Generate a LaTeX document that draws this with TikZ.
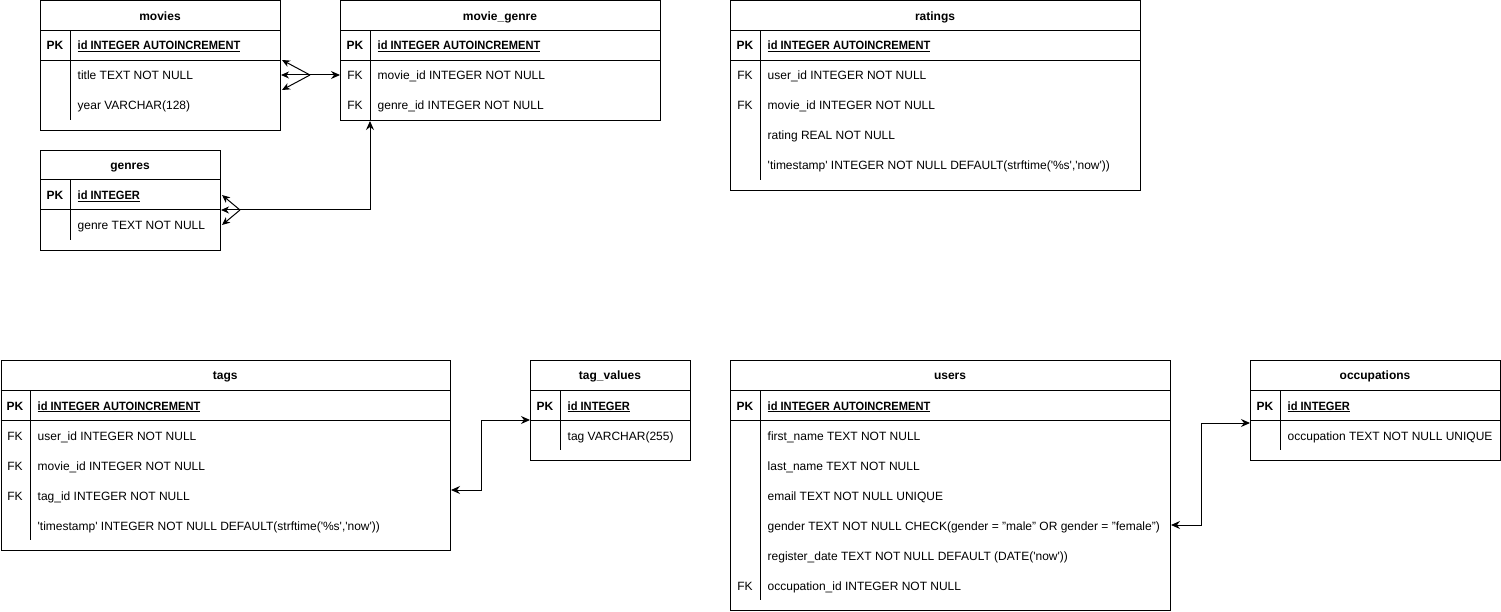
\documentclass[tikz,border=0pt]{standalone}
\usepackage{fontspec}
\setmainfont{Liberation Sans}
\usetikzlibrary{calc,arrows.meta}
\newcommand\sq{\textquotesingle}
\newcommand\ertbl[7]{%
  \node[tbl, minimum width=#4pt, minimum height=#5pt] (#1) at (#2,#3) {};
  \node[ttl] (#1-title) at ({#2+#4/2},{#3+15.3}) {#6};
  \draw[ln] (#2,{#3+30}) -- ++(#4,0);
  \draw[ln] (#2,{#3+60}) -- ++(#4,0);
  \draw[ln] ({#2+30},{#3+30}) -- ({#2+30},{#3+30+30*#7});
}
\newcommand\erow[6]{%
  \node[keyt] (#1-k#2) at ({#3+15},{#4+15.7+30*#2}) {#5};
  \node[fld] (#1-r#2) at ({#3+37.5},{#4+15.7+30*#2}) {#6};
}
\newcommand\pkt{\textbf{PK}}
\newcommand\pkf[1]{\scalebox{0.925}[1]{\textbf{\underline{#1}}}}
\begin{document}
\begin{tikzpicture}[x=1pt,y=-1pt,
  every node/.style={font=\fontsize{12}{14}\selectfont},
  ln/.style={line width=1pt, draw=black},
  tbl/.style={ln, rectangle, anchor=north west, inner sep=0pt},
  ttl/.style={inner sep=0pt, text height=8.6pt, text depth=0pt, font=\fontsize{12}{14}\selectfont\bfseries},
  keyt/.style={inner sep=0pt, text height=8.6pt, text depth=0pt},
  fld/.style={inner sep=0pt, anchor=west, text height=8.6pt, text depth=0pt},
  arr/.style={ln, -{Stealth[length=8pt,width=7pt,inset=2.5pt]}},
  arrb/.style={ln, {Stealth[length=9pt,width=8pt,inset=3pt]}-{Stealth[length=9pt,width=8pt,inset=3pt]}},
  arrs/.style={ln, -{Stealth[length=9pt,width=8pt,inset=3pt]}}
]
\useasboundingbox (0,0) rectangle (1501,612);

% movies
\ertbl{movies}{40}{0.5}{240}{129.5}{movies}{3}
\erow{movies}{1}{40}{0}{\pkt}{\pkf{id INTEGER AUTOINCREMENT}}
\erow{movies}{2}{40}{0}{}{title TEXT NOT NULL}
\erow{movies}{3}{40}{0}{}{year VARCHAR(128)}

% movie_genre
\ertbl{movie_genre}{340}{0.5}{320}{119.5}{movie\_genre}{3}
\erow{movie_genre}{1}{340}{0}{\pkt}{\pkf{id INTEGER AUTOINCREMENT}}
\erow{movie_genre}{2}{340}{0}{FK}{movie\_id INTEGER NOT NULL}
\erow{movie_genre}{3}{340}{0}{FK}{genre\_id INTEGER NOT NULL}

% ratings
\ertbl{ratings}{730}{0.5}{410}{189.5}{ratings}{5}
\erow{ratings}{1}{730}{0}{\pkt}{\pkf{id INTEGER AUTOINCREMENT}}
\erow{ratings}{2}{730}{0}{FK}{user\_id INTEGER NOT NULL}
\erow{ratings}{3}{730}{0}{FK}{movie\_id INTEGER NOT NULL}
\erow{ratings}{4}{730}{0}{}{rating REAL NOT NULL}
\erow{ratings}{5}{730}{0}{}{\sq timestamp\sq{} INTEGER NOT NULL DEFAULT(strftime(\sq\%s\sq,\sq now\sq))}

% genres
\ertbl{genres}{40}{150}{180}{100}{genres}{2}
\erow{genres}{1}{40}{150}{\pkt}{\pkf{id INTEGER}}
\erow{genres}{2}{40}{150}{}{genre TEXT NOT NULL}

% tags
\ertbl{tags}{0.5}{360}{449.5}{190}{tags}{5}
\erow{tags}{1}{0}{360}{\pkt}{\pkf{id INTEGER AUTOINCREMENT}}
\erow{tags}{2}{0}{360}{FK}{user\_id INTEGER NOT NULL}
\erow{tags}{3}{0}{360}{FK}{movie\_id INTEGER NOT NULL}
\erow{tags}{4}{0}{360}{FK}{tag\_id INTEGER NOT NULL}
\erow{tags}{5}{0}{360}{}{\sq timestamp\sq{} INTEGER NOT NULL DEFAULT(strftime(\sq\%s\sq,\sq now\sq))}

% tag_values
\ertbl{tag_values}{530}{360}{160}{100}{tag\_values}{2}
\erow{tag_values}{1}{530}{360}{\pkt}{\pkf{id INTEGER}}
\erow{tag_values}{2}{530}{360}{}{tag VARCHAR(255)}

% users
\ertbl{users}{730}{360}{440}{250}{users}{7}
\erow{users}{1}{730}{360}{\pkt}{\pkf{id INTEGER AUTOINCREMENT}}
\erow{users}{2}{730}{360}{}{first\_name TEXT NOT NULL}
\erow{users}{3}{730}{360}{}{last\_name TEXT NOT NULL}
\erow{users}{4}{730}{360}{}{email TEXT NOT NULL UNIQUE}
\erow{users}{5}{730}{360}{}{gender TEXT NOT NULL CHECK(gender = "male" OR gender = "female")}
\erow{users}{6}{730}{360}{}{register\_date TEXT NOT NULL DEFAULT (DATE(\sq now\sq))}
\erow{users}{7}{730}{360}{FK}{occupation\_id INTEGER NOT NULL}

% occupations
\ertbl{occupations}{1250}{360}{250}{100}{occupations}{2}
\erow{occupations}{1}{1250}{360}{\pkt}{\pkf{id INTEGER}}
\erow{occupations}{2}{1250}{360}{}{occupation TEXT NOT NULL UNIQUE}

% movies <-> movie_genre
\coordinate (fk1) at (310,75);
\draw[arr] (fk1) -- ($(movies.north east)+(1,59.5)$);
\draw[arr] (fk1) -- (movies.east |- fk1);
\draw[arr] (fk1) -- ($(movies.north east)+(1,89.5)$);
\draw[arrs] (fk1) -- (movie_genre.west |- fk1);

% genres <-> movie_genre
\coordinate (fk2) at (240,210);
\draw[arr] (fk2) -- ($(genres.north east)+(1,45)$);
\draw[arr] (fk2) -- (genres.east |- fk2);
\draw[arr] (fk2) -- ($(genres.north east)+(1,75)$);
\draw[arrs] (fk2) -| ($(movie_genre.south west)+(30,0)$);

% tags <-> tag_values
\draw[arrb] ($(tags.north east)+(0,130)$) -- ++(30,0) |- ($(tag_values.north west)+(0,60)$);

% users <-> occupations
\draw[arrb] ($(users.north east)+(0,165)$) -- ++(30,0) |- ($(occupations.north west)+(0,63)$);
\end{tikzpicture}
\end{document}
